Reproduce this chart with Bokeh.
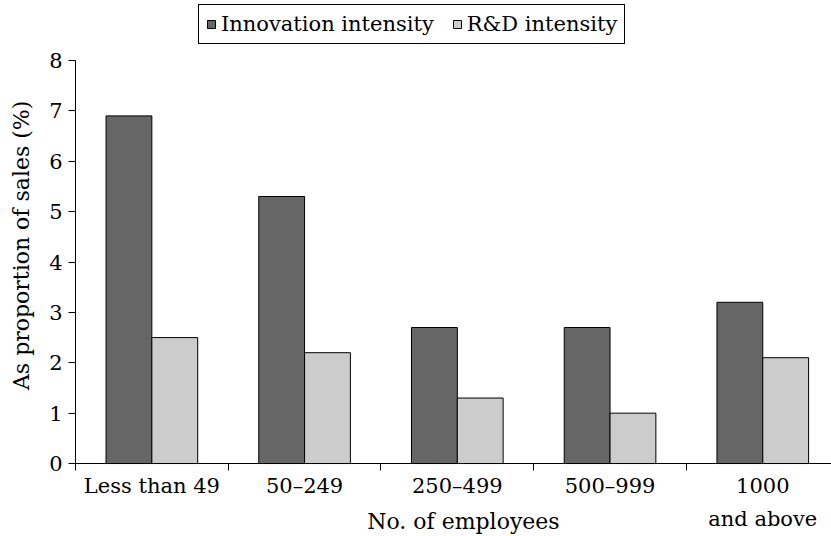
import math
from bokeh.plotting import figure
from bokeh.models import Range1d, FixedTicker, Legend, LegendItem, Label
from bokeh.embed import file_html
from bokeh.resources import INLINE

categories = ["Less than 49", "50\u2013249", "250\u2013499", "500\u2013999", "1000\nand above"]
innovation = [6.9, 5.3, 2.7, 2.7, 3.2]
rnd = [2.5, 2.2, 1.3, 1.0, 2.1]
y_ticks = [0, 1, 2, 3, 4, 5, 6, 7, 8]

FONT = "DejaVu Serif"
DARK = "#666666"
LIGHT = "#cccccc"

p = figure(width=831, height=536, output_backend="svg", toolbar_location=None,
           x_range=Range1d(-0.491, 4.95), y_range=Range1d(-1.448, 9.19),
           min_border_left=0, min_border_right=0, min_border_top=0, min_border_bottom=0)
p.outline_line_color = None
p.xgrid.grid_line_color = None
p.ygrid.grid_line_color = None
p.background_fill_color = "white"
p.border_fill_color = "white"

centers = [i + 0.5 for i in range(len(categories))]
x_inn = [c - 0.15 for c in centers]
x_rnd = [c + 0.15 for c in centers]

r1 = p.vbar(x=x_inn, top=innovation, width=0.3, bottom=0, fill_color=DARK, line_color="black", line_width=1)
r2 = p.vbar(x=x_rnd, top=rnd, width=0.3, bottom=0, fill_color=LIGHT, line_color="black", line_width=1)

# x axis, pinned at y = 0
xa = p.xaxis[0]
xa.fixed_location = 0
xa.bounds = (0, 5)
xa.ticker = FixedTicker(ticks=centers, minor_ticks=list(range(len(categories) + 1)))
xa.major_label_overrides = {c: lab for c, lab in zip(centers, categories)}
xa.major_tick_out = 0
xa.major_tick_in = 0
xa.minor_tick_out = 7
xa.minor_tick_in = 0
xa.minor_tick_line_color = "black"
xa.axis_line_color = "black"
xa.major_label_text_font = FONT
xa.major_label_text_font_size = "21px"
xa.major_label_text_color = "black"
xa.major_label_standoff = 3
xa.major_label_text_line_height = 1.38

# y axis, pinned at x = 0
ya = p.yaxis[0]
ya.fixed_location = 0
ya.bounds = (0, 8)
ya.ticker = FixedTicker(ticks=y_ticks)
ya.minor_tick_line_color = None
ya.major_tick_out = 7
ya.major_tick_in = 0
ya.axis_line_color = "black"
ya.major_tick_line_color = "black"
ya.major_label_text_font = FONT
ya.major_label_text_font_size = "21px"
ya.major_label_text_color = "black"
ya.major_label_standoff = 6

# axis titles
ylabel = Label(x=-0.354, y=4.33, text="As proportion of sales (%)", text_font=FONT, text_font_size="22px",
               text_color="black", text_align="center", text_baseline="middle", angle=math.pi / 2)
p.add_layout(ylabel)

xlabel = Label(x=2.54, y=-1.15, text="No. of employees", text_font=FONT, text_font_size="22px",
               text_color="black", text_align="center", text_baseline="alphabetic")
p.add_layout(xlabel)

legend = Legend(items=[LegendItem(label="Innovation intensity", renderers=[r1]),
                       LegendItem(label="R&D intensity", renderers=[r2])],
                orientation="horizontal", location=(198, 492))
legend.label_text_font = FONT
legend.label_text_font_size = "21px"
legend.label_text_color = "black"
legend.glyph_width = 10
legend.glyph_height = 10
legend.label_standoff = 5
legend.spacing = 18
legend.padding = 7
legend.margin = 0
legend.border_line_color = "black"
legend.border_line_width = 1
legend.border_line_alpha = 1
legend.background_fill_color = "white"
legend.background_fill_alpha = 1
p.add_layout(legend, "center")

open("out.html", "w").write(file_html(p, INLINE))
